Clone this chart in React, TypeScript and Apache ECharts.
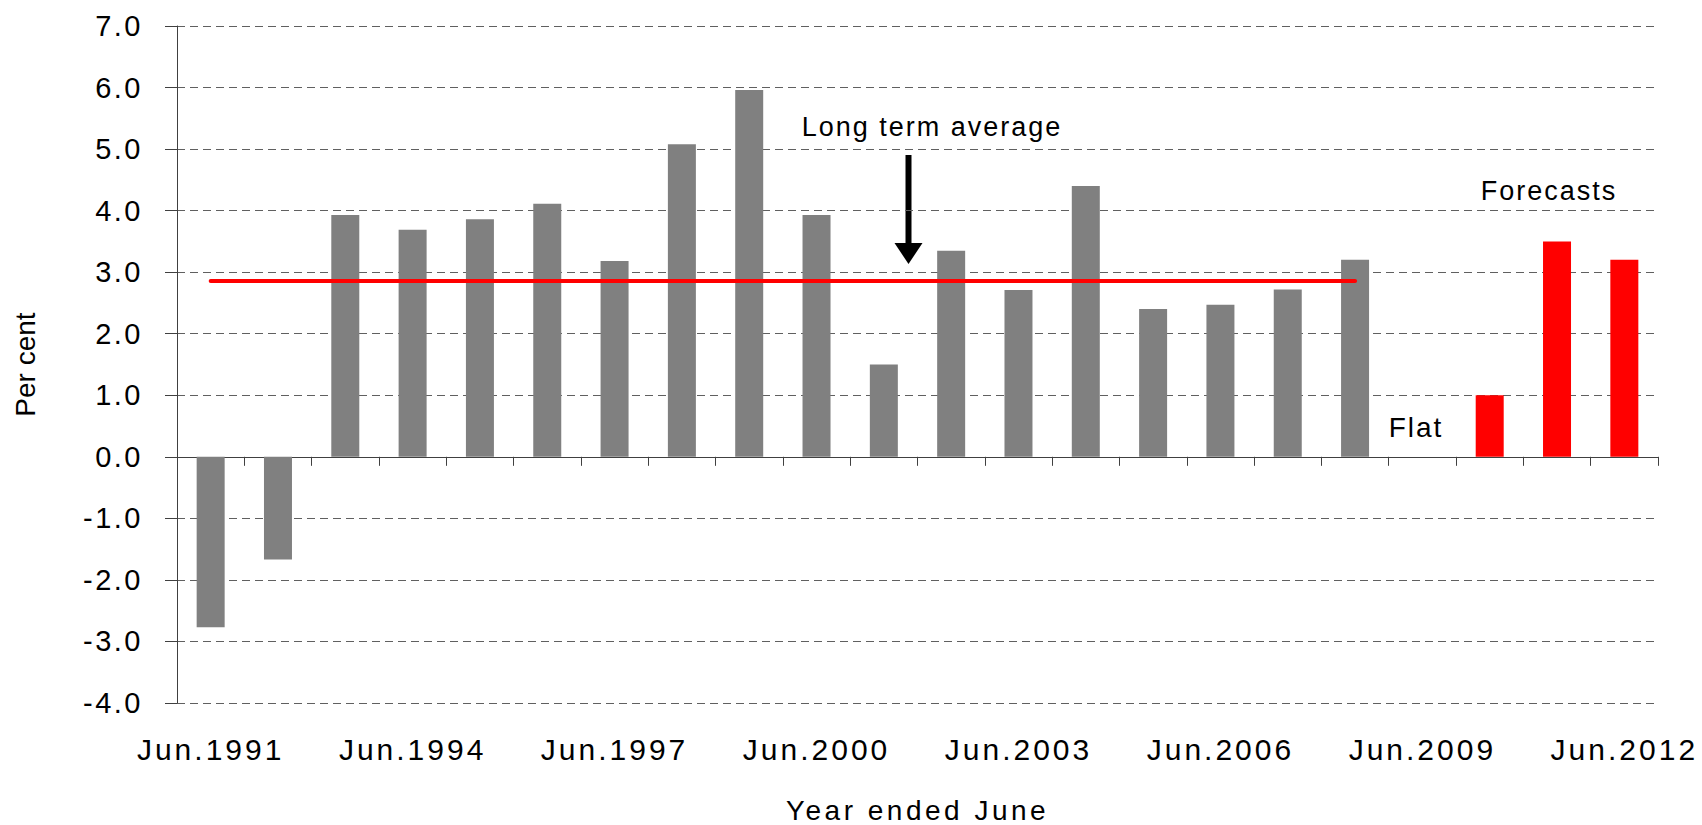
import React, { useEffect, useRef } from "react";
import * as echarts from "echarts";

const categories = [
  "Jun.1991", "Jun.1992", "Jun.1993", "Jun.1994", "Jun.1995", "Jun.1996",
  "Jun.1997", "Jun.1998", "Jun.1999", "Jun.2000", "Jun.2001", "Jun.2002",
  "Jun.2003", "Jun.2004", "Jun.2005", "Jun.2006", "Jun.2007", "Jun.2008",
  "Jun.2009", "Jun.2010", "Jun.2011", "Jun.2012",
];
const actualValues = [
  -2.77, -1.67, 3.93, 3.69, 3.86, 4.11, 3.18, 5.08, 5.96, 3.93, 1.5, 3.35,
  2.71, 4.4, 2.4, 2.47, 2.72, 3.2,
];
const forecastValues = [0, 1.0, 3.5, 3.2];
const longTermAverage = 2.86;
const yMin = -4;
const yMax = 7;
const yInterval = 1;

const FONT = '"Liberation Sans", Arial, Helvetica, sans-serif';

const spacingFor = (t: string): string => {
  if (/^-?\d+\.\d$/.test(t)) return "2.5px";
  if (t.startsWith("Jun.")) return "3px";
  if (t === "Year ended June") return "3.5px";
  if (t === "Per cent") return "0px";
  return "2px";
};

export default function App() {
  const ref = useRef<HTMLDivElement>(null);
  useEffect(() => {
    document.body.style.margin = "0";
    const el = ref.current!;
    const chart = echarts.init(el, undefined, { renderer: "svg" });
    const nA = actualValues.length;
    const nF = forecastValues.length;
    const actualData = [...actualValues, ...new Array(nF).fill(null)];
    const forecastData = [...new Array(nA).fill(null), ...forecastValues];

    chart.setOption({
      animation: false,
      grid: { left: 177, right: 44, top: 26, bottom: 122, outerBoundsMode: "none" },
      xAxis: [
        {
          type: "category",
          data: categories,
          axisLine: { show: true, onZero: true, lineStyle: { color: "#404040", width: 1 } },
          axisTick: { show: true, interval: 0, length: 9, lineStyle: { color: "#404040" } },
          axisLabel: { show: false },
          splitLine: { show: false },
        },
        {
          type: "category",
          data: categories,
          position: "bottom",
          axisLine: { show: false, onZero: false },
          axisTick: { show: false },
          splitLine: { show: false },
          axisLabel: {
            show: true,
            interval: 2,
            margin: 31,
            fontSize: 30,
            color: "#000",
            fontFamily: FONT,
          },
          name: "Year ended June",
          nameLocation: "middle",
          nameGap: 93,
          nameTextStyle: { fontSize: 28, color: "#000", fontFamily: FONT },
        },
      ],
      yAxis: {
        type: "value",
        min: yMin,
        max: yMax,
        interval: yInterval,
        axisLine: { show: true, lineStyle: { color: "#404040", width: 1 } },
        axisTick: { show: true, length: 12, lineStyle: { color: "#404040" } },
        axisLabel: {
          margin: 34,
          fontSize: 29,
          color: "#000",
          fontFamily: FONT,
          formatter: (v: number) => v.toFixed(1),
        },
        splitLine: {
          show: true,
          lineStyle: { color: "#606060", type: [8, 5], width: 1 },
        },
        name: "Per cent",
        nameLocation: "middle",
        nameRotate: 90,
        nameGap: 138,
        nameTextStyle: { fontSize: 28, color: "#000", fontFamily: FONT },
      },
      series: [
        {
          name: "Actual",
          type: "bar",
          stack: "all",
          barWidth: 28,
          data: actualData,
          itemStyle: { color: "#808080" },
          silent: true,
          markLine: {
            silent: true,
            symbol: "none",
            label: { show: false },
            lineStyle: { color: "#ff0000", width: 4, type: "solid", cap: "round" },
            data: [
              [
                { coord: [categories[0], longTermAverage] },
                { coord: [categories[nA - 1], longTermAverage] },
              ],
            ],
          },
        },
        {
          name: "Forecast",
          type: "bar",
          stack: "all",
          barWidth: 28,
          data: forecastData,
          itemStyle: { color: "#ff0000" },
          silent: true,
        },
      ],
      graphic: [
        {
          type: "text",
          x: 932,
          y: 127,
          silent: true,
          style: {
            text: "Long term average",
            fontSize: 27,
            fontFamily: FONT,
            fill: "#000",
            align: "center",
            verticalAlign: "middle",
          },
        },
        {
          type: "rect",
          silent: true,
          shape: { x: 905.5, y: 155, width: 6, height: 92 },
          style: { fill: "#000" },
        },
        {
          type: "polygon",
          silent: true,
          shape: { points: [[894.5, 243], [922.5, 243], [908.5, 264]] },
          style: { fill: "#000" },
        },
        {
          type: "text",
          x: 1549,
          y: 191,
          silent: true,
          style: {
            text: "Forecasts",
            fontSize: 27,
            fontFamily: FONT,
            fill: "#000",
            align: "center",
            verticalAlign: "middle",
          },
        },
        {
          type: "text",
          x: 1416,
          y: 427,
          silent: true,
          style: {
            text: "Flat",
            fontSize: 28,
            fontFamily: FONT,
            fill: "#000",
            align: "center",
            verticalAlign: "middle",
          },
        },
      ],
    });

    const applySpacing = () => {
      el.querySelectorAll("text").forEach((t) => {
        const s = (t.textContent || "").trim();
        (t as SVGTextElement).style.letterSpacing = spacingFor(s);
      });
    };
    applySpacing();
    chart.on("finished", applySpacing);
    const t1 = setTimeout(applySpacing, 30);
    const t2 = setTimeout(applySpacing, 200);

    return () => {
      clearTimeout(t1);
      clearTimeout(t2);
      chart.dispose();
    };
  }, []);

  return <div ref={ref} style={{ width: 1702, height: 825 }} />;
}
